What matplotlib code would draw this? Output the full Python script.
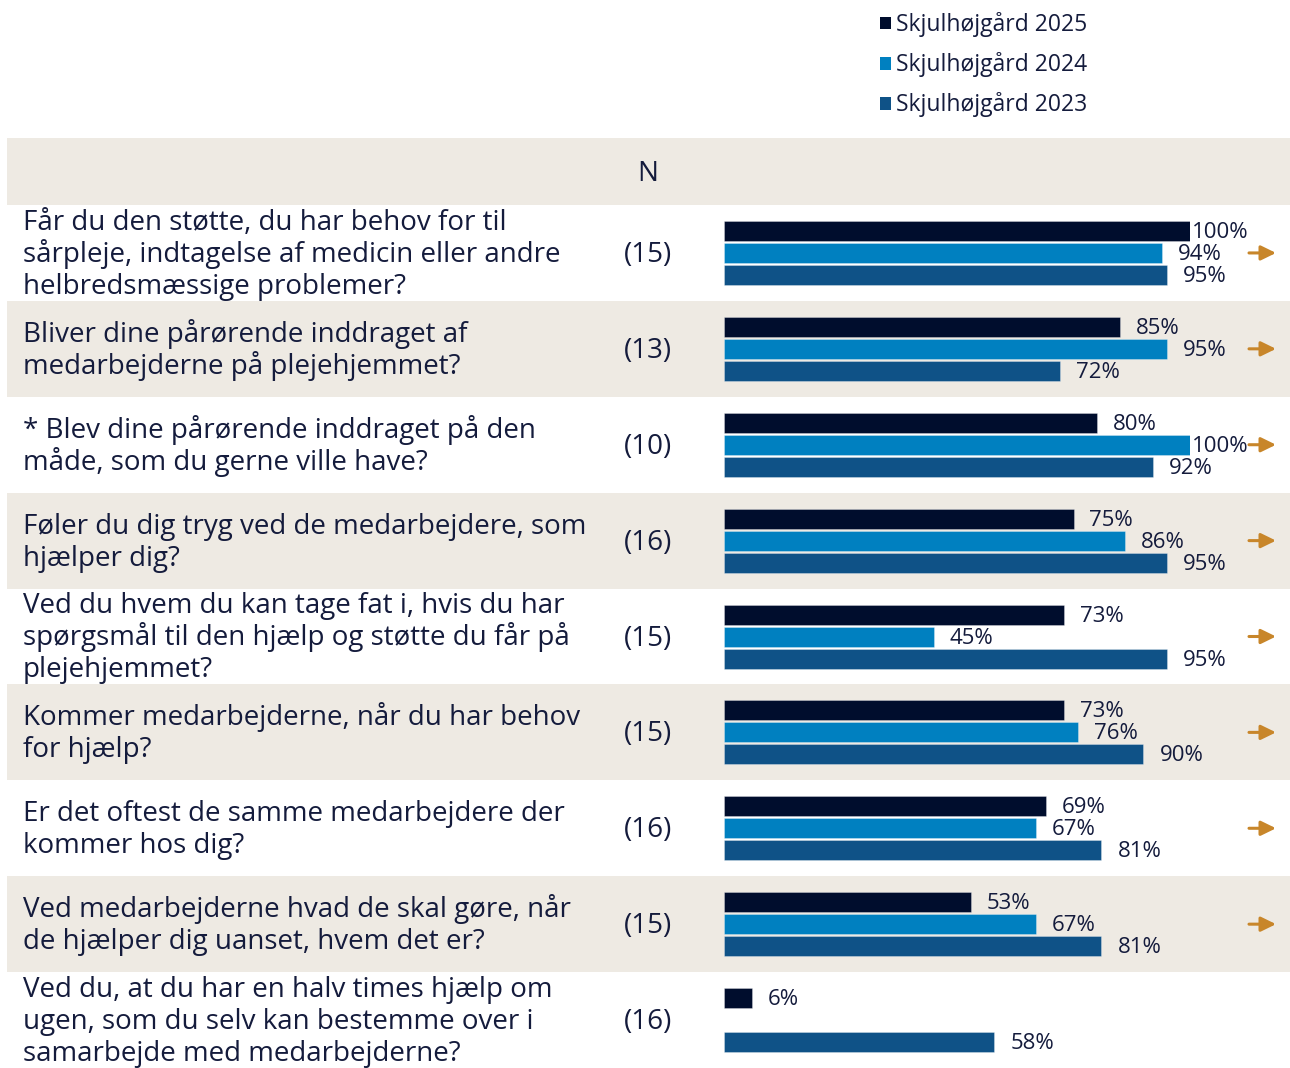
import matplotlib
matplotlib.use("Agg")
import matplotlib.pyplot as plt
from matplotlib.patches import Patch
import numpy as np

plt.rcParams['font.family'] = ['Open Sans', 'DejaVu Sans']

# ---------------- data ----------------
questions = [
    "Får du den støtte, du har behov for til\nsårpleje, indtagelse af medicin eller andre\nhelbredsmæssige problemer?",
    "Bliver dine pårørende inddraget af\nmedarbejderne på plejehjemmet?",
    "* Blev dine pårørende inddraget på den\nmåde, som du gerne ville have?",
    "Føler du dig tryg ved de medarbejdere, som\nhjælper dig?",
    "Ved du hvem du kan tage fat i, hvis du har\nspørgsmål til den hjælp og støtte du får på\nplejehjemmet?",
    "Kommer medarbejderne, når du har behov\nfor hjælp?",
    "Er det oftest de samme medarbejdere der\nkommer hos dig?",
    "Ved medarbejderne hvad de skal gøre, når\nde hjælper dig uanset, hvem det er?",
    "Ved du, at du har en halv times hjælp om\nugen, som du selv kan bestemme over i\nsamarbejde med medarbejderne?",
]
n_values = [15, 13, 10, 16, 15, 15, 16, 15, 16]
series_names = ["Skjulhøjgård 2025", "Skjulhøjgård 2024", "Skjulhøjgård 2023"]
values_2025 = [100, 85, 80, 75, 73, 73, 69, 53, 6]
values_2024 = [94, 95, 100, 86, 45, 76, 67, 67, None]
values_2023 = [95, 72, 92, 95, 95, 90, 81, 81, 58]
show_arrow = [True, True, True, True, True, True, True, True, False]

# ---------------- style ----------------
W, H = 1290, 1068
colors = ["#000D2D", "#0080C0", "#0F5287"]
beige = "#EEEAE3"
text_col = "#141B3C"
arrow_col = "#C8862A"
q_size = 20
line_px = 32

fig = plt.figure(figsize=(W / 100, H / 100), dpi=100)
fig.patch.set_facecolor("white")

# background axes in pixel coordinates
bg = fig.add_axes([0, 0, 1, 1])
bg.set_xlim(0, W)
bg.set_ylim(H, 0)
bg.axis("off")

row_top = 205.0
row_h = (H - row_top) / len(questions)

# header band
bg.axhspan(138, row_top, xmin=7 / W, xmax=1, color=beige, lw=0, zorder=0)
bg.text(648, 181, "N", ha="center", va="baseline", fontsize=q_size, color=text_col)

for i, (q, n) in enumerate(zip(questions, n_values)):
    y0 = row_top + i * row_h
    yc = y0 + row_h / 2
    if i % 2 == 1:
        bg.axhspan(y0, y0 + row_h, xmin=7 / W, xmax=1, color=beige, lw=0, zorder=0)
    lines = q.split("\n")
    m = len(lines)
    for k, line in enumerate(lines):
        yb = yc + (k - (m - 1) / 2) * line_px + 9
        bg.text(23, yb, line, ha="left", va="baseline", fontsize=q_size, color=text_col)
    bg.text(648, yc + 9, f"({n})", ha="center", va="baseline", fontsize=q_size,
            color=text_col)
    if show_arrow[i]:
        bg.annotate("", xy=(1276, yc), xytext=(1249, yc),
                    arrowprops=dict(arrowstyle="-|>,head_length=0.45,head_width=0.22",
                                    mutation_scale=20, color=arrow_col, lw=2.2,
                                    shrinkA=0, shrinkB=0))

# bar axes: 0..100 % mapped onto 724..1190 px
x0_px, x100_px = 724, 1190
bx = fig.add_axes([x0_px / W, 0, (x100_px - x0_px) / W, (H - row_top) / H])
bx.set_xlim(0, 100)
bx.set_ylim(len(questions), 0)
bx.axis("off")
bx.patch.set_alpha(0)

offsets = np.array([-22, 0, 22]) / row_h
bar_h = 20 / row_h
centers = np.arange(len(questions)) + 0.5
label_off = 16 / ((x100_px - x0_px) / 100)
base_shift = 7 / row_h

all_series = [values_2025, values_2024, values_2023]
for s, (vals, col) in enumerate(zip(all_series, colors)):
    ys = [c + offsets[s] for c, v in zip(centers, vals) if v is not None]
    vs = [v for v in vals if v is not None]
    bx.barh(ys, vs, height=bar_h, color=col, edgecolor=(1, 1, 1, 0.35), lw=0.6)
    for y, v in zip(ys, vs):
        bx.text(min(v + label_off, 100.4), y + base_shift, f"{v}%", ha="left",
                va="baseline", fontsize=16, color=text_col, clip_on=False)

# legend
handles = [Patch(facecolor=c, edgecolor="none") for c in colors]
fig.legend(handles, series_names, loc="upper left",
           bbox_to_anchor=(871 / W, 1 - 3 / H), frameon=False,
           fontsize=16.5, handlelength=0.48, handleheight=0.48,
           handletextpad=0.22, labelspacing=0.66, borderaxespad=0,
           labelcolor=text_col)

fig.savefig("out.png", dpi=100, facecolor="white")
